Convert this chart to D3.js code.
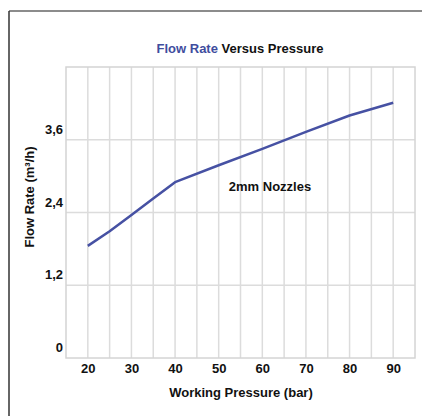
<!DOCTYPE html>
<html><head><meta charset="utf-8">
<script src="https://cdn.jsdelivr.net/npm/d3@7"></script>
<style>body{margin:0;background:#fff}svg{display:block}text{font-family:"Liberation Sans",Arial,sans-serif;font-weight:bold}</style>
</head><body>
<script>
const pressure = [20, 25, 30, 35, 40, 50, 60, 70, 80, 90];
const flowRate = [1.85, 2.09, 2.36, 2.63, 2.9, 3.18, 3.45, 3.73, 4.0, 4.21];
const xTicks = [20, 30, 40, 50, 60, 70, 80, 90];
const xGrid = [20, 25, 30, 35, 40, 45, 50, 55, 60, 65, 70, 75, 80, 85, 90];
const yTicks = [0, 1.2, 2.4, 3.6];
const yTickLabels = ["0", "1,2", "2,4", "3,6"];

const W = 422, H = 416;
const svg = d3.select("body").append("svg").attr("width", W).attr("height", H);

// frame
svg.append("line").attr("x1", 9).attr("x2", W).attr("y1", 11).attr("y2", 11).attr("stroke", "#666").attr("stroke-width", 1.5);
svg.append("line").attr("x1", 9).attr("x2", 9).attr("y1", 11).attr("y2", H).attr("stroke", "#333").attr("stroke-width", 1.5);

const x = d3.scaleLinear().domain([15, 95]).range([66, 415]);
const y = d3.scaleLinear().domain([0, 4.8]).range([358, 67]);

const grid = svg.append("g");
grid.selectAll(".vg").data(xGrid).join("line")
  .attr("x1", d => x(d)).attr("x2", d => x(d)).attr("y1", y(4.8)).attr("y2", y(0))
  .attr("stroke", "#dcdcdc").attr("stroke-width", 1.5);
grid.selectAll(".hg").data([1.2, 2.4, 3.6]).join("line")
  .attr("x1", x(15)).attr("x2", x(95)).attr("y1", d => y(d)).attr("y2", d => y(d))
  .attr("stroke", "#dcdcdc").attr("stroke-width", 1.5);
grid.append("rect").attr("x", x(15)).attr("y", y(4.8)).attr("width", x(95) - x(15)).attr("height", y(0) - y(4.8))
  .attr("fill", "none").attr("stroke", "#d4d4d4").attr("stroke-width", 1.5);

// axes (labels only)
const xAxis = d3.axisBottom(x).tickValues(xTicks).tickSize(0).tickPadding(0);
svg.append("g").attr("transform", `translate(0,${y(0) + 15})`).call(xAxis)
  .call(g => g.select(".domain").remove())
  .call(g => g.selectAll("text").attr("font-size", 13).attr("fill", "#111").attr("font-family", null).attr("dy", null));

const yAxis = d3.axisLeft(y).tickValues(yTicks).tickFormat((d, i) => yTickLabels[i]).tickSize(0).tickPadding(0);
svg.append("g").attr("transform", `translate(63,0)`).call(yAxis)
  .call(g => g.select(".domain").remove())
  .call(g => g.selectAll("text").attr("font-size", 13).attr("fill", "#111").attr("font-family", null).attr("dy", "-0.5em"));

// line
const line = d3.line().x((d, i) => x(pressure[i])).y(d => y(d));
svg.append("path").datum(flowRate).attr("d", line)
  .attr("fill", "none").attr("stroke", "#4651a3").attr("stroke-width", 2.5).attr("stroke-linejoin", "round");

// title
const t = svg.append("text").attr("x", 240).attr("y", 53).attr("text-anchor", "middle").attr("font-size", 13);
t.append("tspan").attr("fill", "#3f4d9e").text("Flow Rate ");
t.append("tspan").attr("fill", "#111").text("Versus Pressure");

svg.append("text").attr("x", 241).attr("y", 397).attr("text-anchor", "middle").attr("font-size", 13).attr("fill", "#111").text("Working Pressure (bar)");
svg.append("text").attr("transform", "translate(34,197) rotate(-90)").attr("text-anchor", "middle").attr("font-size", 13).attr("fill", "#111").text("Flow Rate (m³/h)");
svg.append("text").attr("x", 270).attr("y", 191).attr("text-anchor", "middle").attr("font-size", 13).attr("fill", "#111").text("2mm Nozzles");
</script>
</body></html>
